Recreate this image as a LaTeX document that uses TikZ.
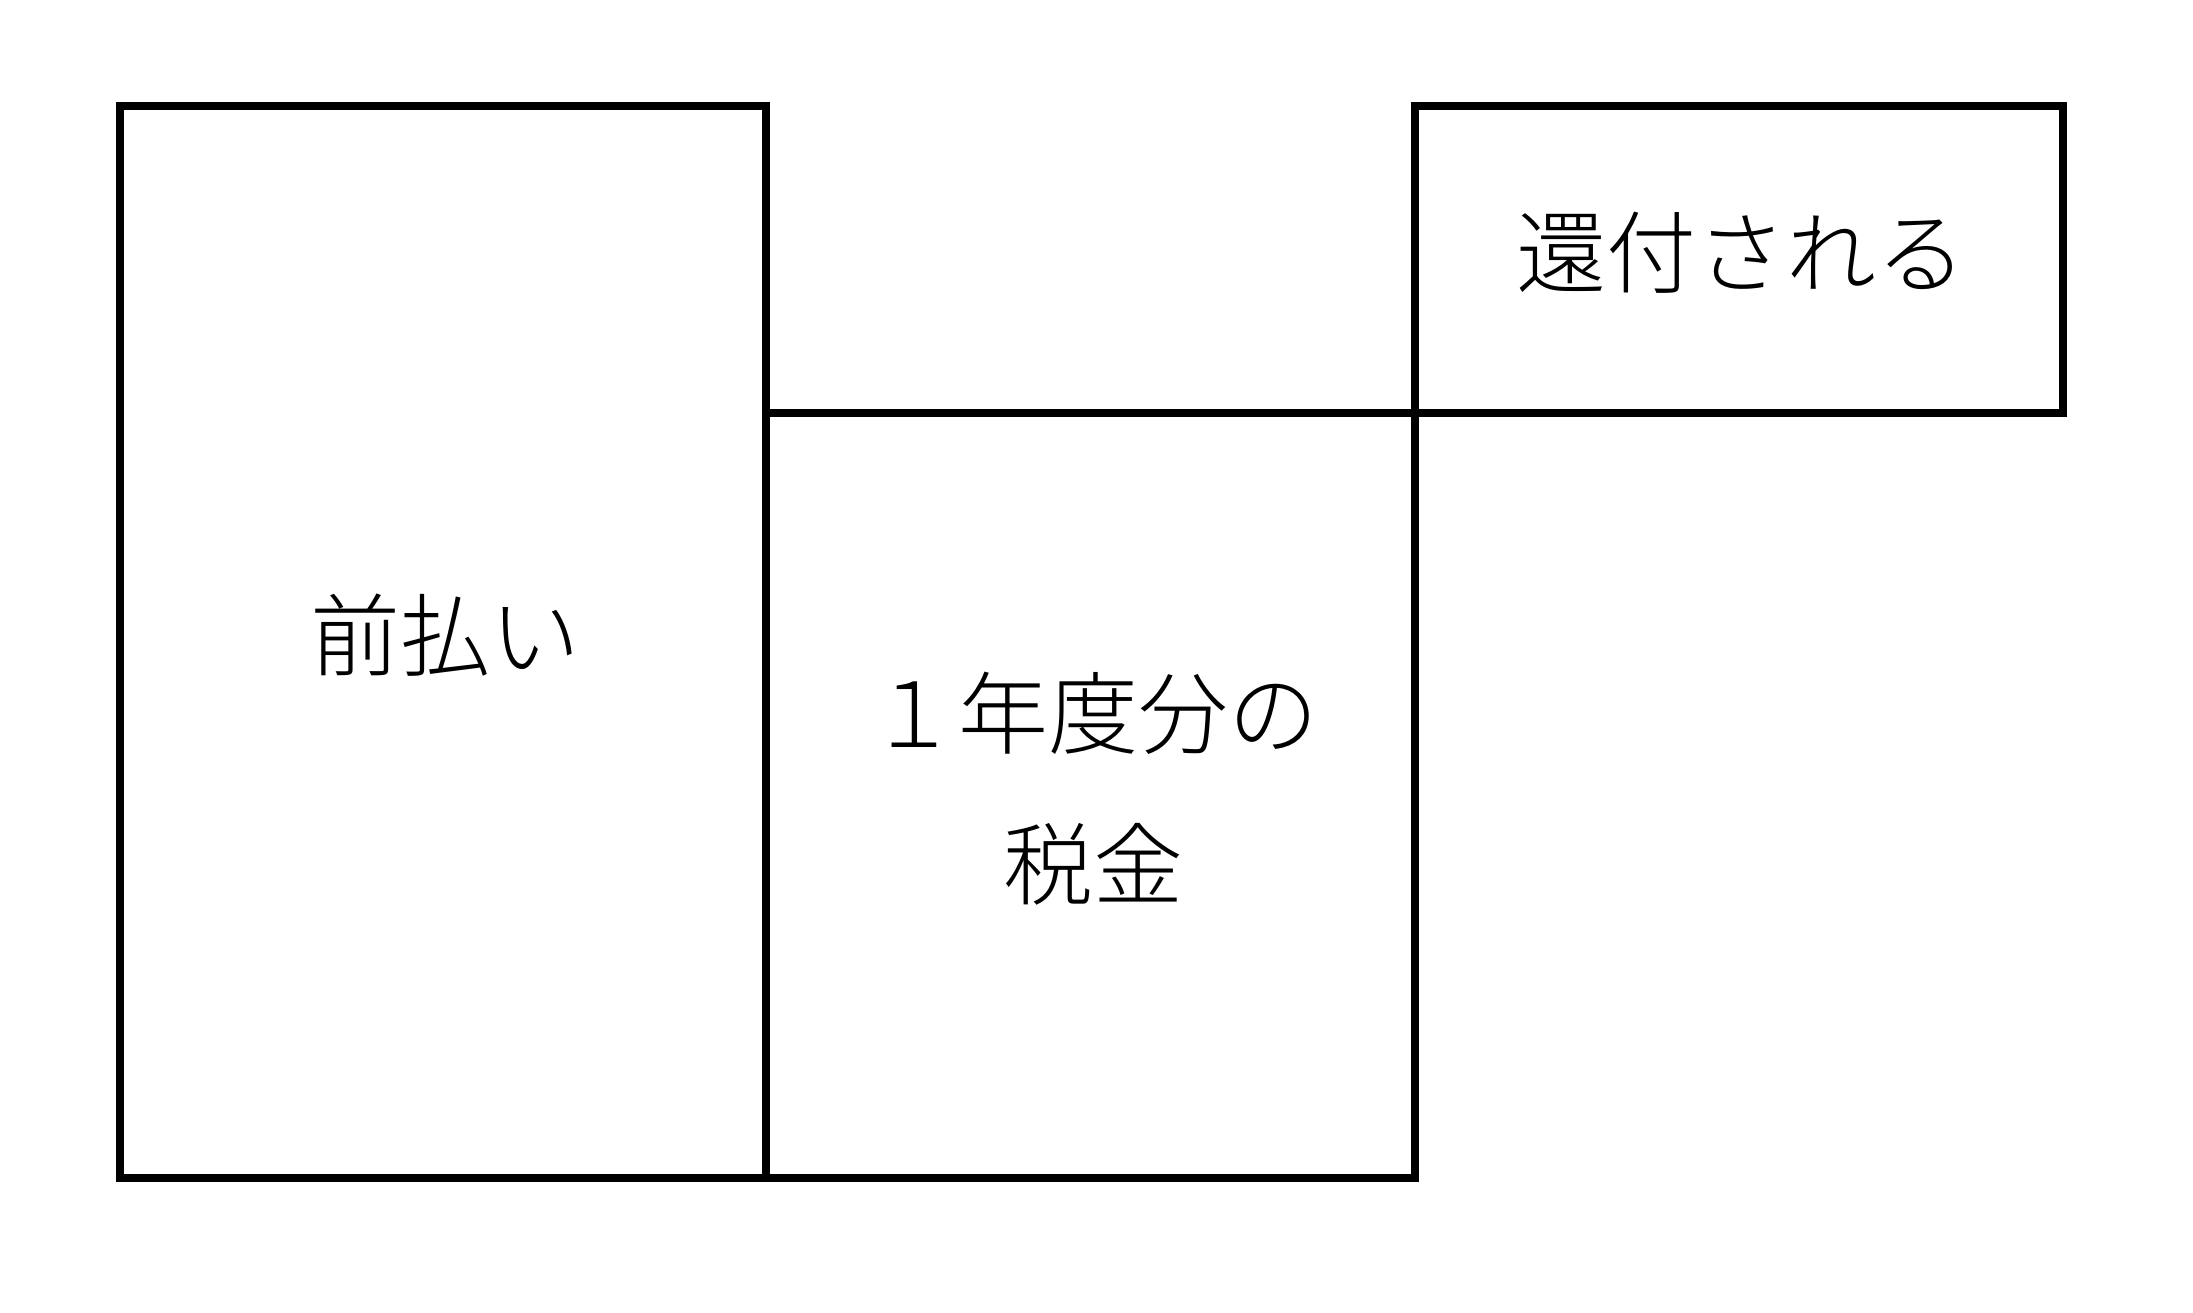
\documentclass[tikz,border=0pt]{standalone}
\usepackage{fontspec}
\newfontfamily\jpfont{Noto Sans CJK JP Light}
\tikzset{
  boxnode/.style={draw=black, line width=7.5pt, rectangle, inner sep=0pt, outer sep=0pt},
  lbl/.style={inner sep=0pt, align=center, font=\jpfont\fontsize{90}{151}\selectfont}
}
\begin{document}
\begin{tikzpicture}[x=1pt,y=-1pt]
\useasboundingbox[fill=white] (0,0) rectangle (2193,1313);
\node[boxnode, minimum width=646pt, minimum height=1072pt] (mae) at (443,642) {};
\node[boxnode, minimum width=649pt, minimum height=765pt] (zei) at (1090.5,795.5) {};
\node[boxnode, minimum width=648pt, minimum height=307pt] (kan) at (1739,259.5) {};
\node[lbl] (maet) at ([xshift=2pt,yshift=7pt]mae.center) {前払い};
\node[lbl] (zeit) at ([xshift=3pt,yshift=7pt]zei.center) {１年度分の\\税金};
\node[lbl] (kant) at ([xshift=2pt,yshift=7pt]kan.center) {還付される};
\end{tikzpicture}
\end{document}
